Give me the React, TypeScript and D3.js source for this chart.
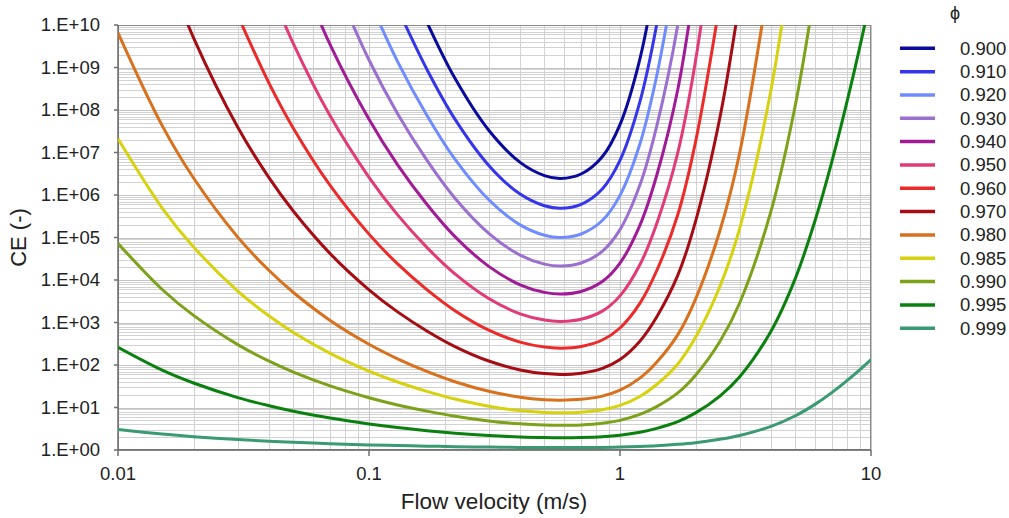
import React from "react";
import * as d3 from "d3";

// ---- data: [flow velocity (m/s), CE (-)] (first/last point of a curve may lie just above 1E+10) ----
const phiLabels = ["0.900", "0.910", "0.920", "0.930", "0.940", "0.950", "0.960", "0.970", "0.980", "0.985", "0.990", "0.995", "0.999"];

const ce0900: [number, number][] = [[0.17, 1.17e10], [0.22, 5.55e8], [0.3, 3.33e7], [0.4, 5.85e6], [0.5, 2.86e6], [0.58, 2.45e6], [0.7, 3.12e6], [0.85, 7.94e6], [1, 4.53e7], [1.2, 1.58e9], [1.4, 1.75e11]];
const ce0910: [number, number][] = [[0.13, 2.48e10], [0.17, 9.12e8], [0.22, 6.08e7], [0.3, 4.97e6], [0.4, 1.05e6], [0.5, 5.57e5], [0.58, 4.86e5], [0.7, 6.04e5], [0.85, 1.39e6], [1, 6.52e6], [1.2, 1.55e8], [1.4, 1.02e10], [1.7, 1.4e13]];
const ce0920: [number, number][] = [[0.1, 3.98e10], [0.13, 1.38e9], [0.17, 7.55e7], [0.22, 6.97e6], [0.3, 7.71e5], [0.4, 1.98e5], [0.5, 1.13e5], [0.58, 1.0e5], [0.7, 1.21e5], [0.85, 2.51e5], [1, 9.8e5], [1.2, 1.58e7], [1.4, 6.31e8], [1.7, 3.67e11]];
const ce0930: [number, number][] = [[0.07, 1.76e11], [0.1, 1.5e9], [0.13, 8.15e7], [0.17, 6.59e6], [0.22, 8.39e5], [0.3, 1.25e5], [0.4, 3.84e4], [0.5, 2.36e4], [0.58, 2.13e4], [0.7, 2.51e4], [0.85, 4.72e4], [1, 1.53e5], [1.2, 1.71e6], [1.4, 4.14e7], [1.7, 1.03e10], [2, 1.25e13]];
const ce0940: [number, number][] = [[0.05, 3.91e11], [0.07, 3.44e9], [0.1, 6.04e7], [0.13, 5.12e6], [0.17, 6.07e5], [0.22, 1.05e5], [0.3, 2.09e4], [0.4, 7.71e3], [0.5, 5.12e3], [0.58, 4.68e3], [0.7, 5.38e3], [0.85, 9.2e3], [1, 2.5e4], [1.2, 1.93e5], [1.4, 2.88e6], [1.7, 3.08e8], [2, 1.28e11]];
const ce0950: [number, number][] = [[0.04, 7.85e10], [0.05, 3.61e9], [0.07, 7.29e7], [0.1, 2.61e6], [0.13, 3.4e5], [0.17, 5.86e4], [0.22, 1.39e4], [0.3, 3.66e3], [0.4, 1.6e3], [0.5, 1.14e3], [0.58, 1.06e3], [0.7, 1.19e3], [0.85, 1.85e3], [1, 4.23e3], [1.2, 2.28e4], [1.4, 2.12e5], [1.7, 1.0e7], [2, 1.44e9], [2.5, 2.0e13]];
const ce0960: [number, number][] = [[0.03, 1.69e10], [0.04, 4.22e8], [0.05, 3.69e7], [0.07, 1.68e6], [0.1, 1.2e5], [0.13, 2.39e4], [0.17, 5.96e3], [0.22, 1.9e3], [0.3, 662], [0.4, 345], [0.5, 264], [0.58, 249], [0.7, 272], [0.85, 387], [1, 743], [1.2, 2.82e3], [1.4, 1.65e4], [1.7, 3.48e5], [2, 1.78e7], [2.5, 3.38e10]];
const ce0970: [number, number][] = [[0.015, 3.66e11], [0.02, 5.0e9], [0.03, 3.92e7], [0.04, 2.52e6], [0.05, 4.14e5], [0.07, 4.18e4], [0.1, 5.89e3], [0.13, 1.78e3], [0.17, 634], [0.22, 272], [0.3, 124], [0.4, 76.6], [0.5, 62.7], [0.58, 60.0], [0.7, 64.3], [0.85, 83.4], [1, 135], [1.2, 364], [1.4, 1.35e3], [1.7, 1.3e4], [2, 2.4e5], [2.5, 6.55e7], [3, 4.06e10]];
const ce0980: [number, number][] = [[0.01, 6.55e9], [0.015, 4.28e7], [0.02, 2.51e6], [0.03, 1.02e5], [0.04, 1.67e4], [0.05, 5.08e3], [0.07, 1.12e3], [0.1, 308], [0.13, 140], [0.17, 70.6], [0.22, 40.4], [0.3, 24.1], [0.4, 17.5], [0.5, 15.3], [0.58, 14.9], [0.7, 15.6], [0.85, 18.5], [1, 25.5], [1.2, 49.0], [1.4, 116], [1.7, 518], [2, 3.56e3], [2.5, 1.44e5], [3, 1.0e7], [4, 2.39e11]];
const ce0985: [number, number][] = [[0.01, 2.11e7], [0.015, 4.94e5], [0.02, 5.97e4], [0.03, 5.47e3], [0.04, 1.42e3], [0.05, 582], [0.07, 188], [0.1, 71.8], [0.13, 39.8], [0.17, 24.0], [0.22, 15.8], [0.3, 10.7], [0.4, 8.45], [0.5, 7.67], [0.58, 7.52], [0.7, 7.76], [0.85, 8.83], [1, 11.2], [1.2, 18.2], [1.4, 34.8], [1.7, 106], [2, 447], [2.5, 7.05e3], [3, 1.67e5], [4, 3.09e8], [5, 1.8e12]];
const ce0990: [number, number][] = [[0.01, 7.23e4], [0.015, 5.98e3], [0.02, 1.47e3], [0.03, 302], [0.04, 123], [0.05, 68.2], [0.07, 32.3], [0.1, 17.0], [0.13, 11.5], [0.17, 8.22], [0.22, 6.24], [0.3, 4.83], [0.4, 4.12], [0.5, 3.86], [0.58, 3.81], [0.7, 3.89], [0.85, 4.24], [1, 4.97], [1.2, 6.86], [1.4, 10.5], [1.7, 22.0], [2, 57.3], [2.5, 357], [3, 2.92e3], [4, 4.28e5], [5, 1.35e8], [6, 7.74e10]];
const ce0995: [number, number][] = [[0.01, 261], [0.015, 75.7], [0.02, 37.7], [0.03, 17.1], [0.04, 11.0], [0.05, 8.18], [0.07, 5.63], [0.1, 4.1], [0.13, 3.37], [0.17, 2.85], [0.22, 2.49], [0.3, 2.19], [0.4, 2.02], [0.5, 1.96], [0.58, 1.95], [0.7, 1.97], [0.85, 2.05], [1, 2.22], [1.2, 2.61], [1.4, 3.23], [1.7, 4.66], [2, 7.48], [2.5, 18.6], [3, 52.9], [4, 633], [5, 1.11e4], [6, 2.61e5], [7, 6.44e6], [8.5, 6.52e8], [10, 4.76e10]];
const ce0999: [number, number][] = [[0.01, 3.03], [0.015, 2.37], [0.02, 2.06], [0.03, 1.76], [0.04, 1.61], [0.05, 1.52], [0.07, 1.41], [0.1, 1.32], [0.13, 1.27], [0.17, 1.23], [0.22, 1.2], [0.3, 1.17], [0.4, 1.15], [0.58, 1.14], [0.85, 1.15], [1, 1.17], [1.2, 1.21], [1.4, 1.26], [1.7, 1.36], [2, 1.49], [2.5, 1.79], [3, 2.2], [4, 3.61], [5, 6.39], [6, 12.0], [7, 22.7], [8.5, 57.0], [10, 134]];

const seriesData = [ce0900, ce0910, ce0920, ce0930, ce0940, ce0950, ce0960, ce0970, ce0980, ce0985, ce0990, ce0995, ce0999];
const seriesColors = ["#0a0a9c", "#3535ec", "#6f8cff", "#9b6fd0", "#a11a96", "#e23a76", "#ec2a2a", "#a50c14", "#d8701c", "#d6d20e", "#7ca21a", "#0a800e", "#3a9a72"];

const xTickValues = [0.01, 0.1, 1, 10];
const xTickLabels = ["0.01", "0.1", "1", "10"];
const yTickValues = [1, 1e1, 1e2, 1e3, 1e4, 1e5, 1e6, 1e7, 1e8, 1e9, 1e10];
const yTickLabels = ["1.E+00", "1.E+01", "1.E+02", "1.E+03", "1.E+04", "1.E+05", "1.E+06", "1.E+07", "1.E+08", "1.E+09", "1.E+10"];

const W = 1009, H = 518;
const L = 118, R = 871, T = 25, B = 450;
const FONT = "'Liberation Sans', Arial, sans-serif";

export default function App() {
  const x = d3.scaleLog().domain([0.01, 10]).range([L, R]);
  const y = d3.scaleLog().domain([1, 1e10]).range([B, T]);

  const xMinor: number[] = [];
  for (let e = -2; e < 1; e++) for (let m = 2; m <= 9; m++) xMinor.push(m * Math.pow(10, e));
  const yMinor: number[] = [];
  for (let e = 0; e < 10; e++) for (let m = 2; m <= 9; m++) yMinor.push(m * Math.pow(10, e));

  const line = d3
    .line<[number, number]>()
    .x((d) => x(d[0]))
    .y((d) => y(d[1]))
    .curve(d3.curveCatmullRom.alpha(0.5));

  const snap = (v: number) => Math.round(v) + 0.5;

  return (
    <svg width={W} height={H} style={{ position: "absolute", left: 0, top: 0, background: "#fff" }} fontFamily={FONT}>
      <defs>
        <clipPath id="plotclip">
          <rect x={L} y={T} width={R - L} height={B - T} />
        </clipPath>
      </defs>
      <rect x={0} y={0} width={W} height={H} fill="#fff" />
      {/* minor grid */}
      {yMinor.map((v, i) => (
        <line key={"ym" + i} x1={L} x2={R} y1={snap(y(v))} y2={snap(y(v))} stroke="#d2d2d2" strokeWidth={1} />
      ))}
      {xMinor.map((v, i) => (
        <line key={"xm" + i} x1={snap(x(v))} x2={snap(x(v))} y1={T} y2={B} stroke="#d2d2d2" strokeWidth={1} />
      ))}
      {/* major grid */}
      {yTickValues.map((v, i) => (
        <line key={"yM" + i} x1={L} x2={R} y1={snap(y(v))} y2={snap(y(v))} stroke="#c4c4c4" strokeWidth={1} />
      ))}
      {xTickValues.map((v, i) => (
        <line key={"xM" + i} x1={snap(x(v))} x2={snap(x(v))} y1={T} y2={B} stroke="#c4c4c4" strokeWidth={1} />
      ))}
      {/* frame */}
      <rect x={L + 0.5} y={T + 0.5} width={R - L - 1} height={B - T - 1} fill="none" stroke="#8a8a8a" strokeWidth={1} />
      <line x1={L} x2={R} y1={B} y2={B} stroke="#6e6e6e" strokeWidth={1.5} />
      <line x1={L} x2={L} y1={T} y2={B} stroke="#6e6e6e" strokeWidth={1.5} />
      {/* curves */}
      <g clipPath="url(#plotclip)">
        {seriesData.map((d, i) => (
          <path key={"s" + i} d={line(d) || ""} fill="none" stroke={seriesColors[i]} strokeWidth={3} strokeLinejoin="round" />
        ))}
      </g>
      {/* x ticks */}
      {xTickValues.map((v, i) => (
        <g key={"xt" + i}>
          <line x1={x(v)} x2={x(v)} y1={B} y2={B + 6} stroke="#6e6e6e" strokeWidth={1.5} />
          <text x={x(v)} y={480} textAnchor="middle" fontSize={18.5} fill="#222">
            {xTickLabels[i]}
          </text>
        </g>
      ))}
      {/* y ticks */}
      {yTickValues.map((v, i) => (
        <g key={"yt" + i}>
          <line x1={L - 4} x2={L} y1={y(v)} y2={y(v)} stroke="#6e6e6e" strokeWidth={1.5} />
          <text x={100} y={y(v)} dy="0.35em" textAnchor="end" fontSize={18.5} fill="#222">
            {yTickLabels[i]}
          </text>
        </g>
      ))}
      {/* axis titles */}
      <text x={494} y={509} textAnchor="middle" fontSize={22.5} fill="#222">
        Flow velocity (m/s)
      </text>
      <text transform={`translate(26,${(T + B) / 2}) rotate(-90)`} textAnchor="middle" fontSize={22} fill="#222">
        CE (-)
      </text>
      {/* legend */}
      <text x={955} y={19} textAnchor="middle" fontSize={18} fill="#222">
        ϕ
      </text>
      {phiLabels.map((lab, i) => {
        const ly = 48.3 + i * 23.33;
        return (
          <g key={"lg" + i}>
            <line x1={900} x2={935} y1={ly} y2={ly} stroke={seriesColors[i]} strokeWidth={3.5} />
            <text x={960} y={ly} dy="0.35em" fontSize={18.5} fill="#222">
              {lab}
            </text>
          </g>
        );
      })}
    </svg>
  );
}
